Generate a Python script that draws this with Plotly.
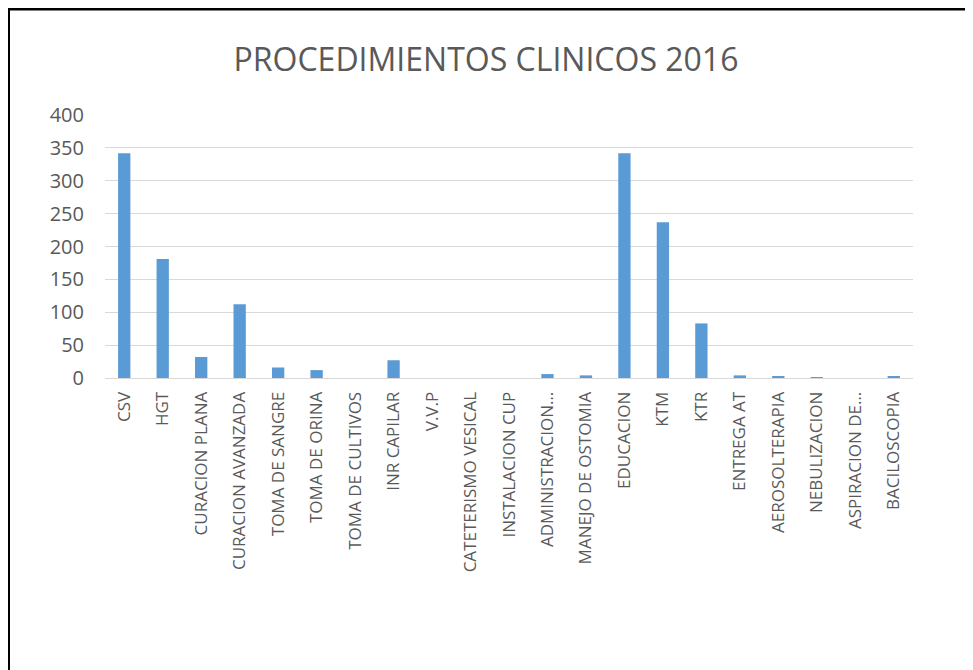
import plotly.graph_objects as go

categories = ["CSV", "HGT", "CURACION PLANA", "CURACION AVANZADA", "TOMA DE SANGRE",
              "TOMA DE ORINA", "TOMA DE CULTIVOS", "INR CAPILAR", "V.V.P",
              "CATETERISMO VESICAL", "INSTALACION CUP", "ADMINISTRACION…",
              "MANEJO DE OSTOMIA", "EDUCACION", "KTM", "KTR", "ENTREGA AT",
              "AEROSOLTERAPIA", "NEBULIZACION", "ASPIRACION DE…", "BACILOSCOPIA"]
values = [342, 181, 32, 112, 16, 12, 0, 27, 0, 0, 0, 6, 4, 342, 237, 83, 4, 3, 1, 0, 3]
y_ticks = [0, 50, 100, 150, 200, 250, 300, 350, 400]

W, H = 965, 662
L, R, T, B = 97, 60, 107, 292
pw, ph = W - L - R, H - T - B

def px(x):
    return (x - L) / pw

def py(y):
    return (H - B - y) / ph

fig = go.Figure(go.Bar(x=categories, y=values, marker=dict(color="#5b9bd5", line=dict(width=0)),
                       width=0.32))

fig.update_layout(
    width=W, height=H,
    margin=dict(l=L, r=R, t=T, b=B),
    paper_bgcolor="white", plot_bgcolor="white",
    font=dict(family="Open Sans", color="#595959", size=17),
    title=dict(text="PROCEDIMIENTOS CLINICOS 2016", x=(486 - 8) / W, xanchor="center", y=1 - 52 / H,
               yanchor="middle", font=dict(size=32, color="#595959")),
    showlegend=False,
    xaxis=dict(tickangle=-90, showgrid=False, showline=True, linecolor="#d9d9d9", linewidth=1,
               ticks="", tickfont=dict(size=17, color="#595959"), ticklabelstandoff=6),
    yaxis=dict(range=[0, 400], tickvals=y_ticks, showgrid=True, gridcolor="#d9d9d9", gridwidth=1,
               zeroline=False, ticks="", tickfont=dict(size=20, color="#595959"), ticklabelstandoff=20),
    shapes=[
        dict(type="line", xref="paper", yref="paper", x0=px(1), x1=px(964), y0=py(1), y1=py(1),
             line=dict(color="black", width=3)),
        dict(type="line", xref="paper", yref="paper", x0=px(1), x1=px(1), y0=py(0), y1=py(H),
             line=dict(color="black", width=2)),
        dict(type="line", xref="paper", yref="paper", x0=px(963), x1=px(963), y0=py(0), y1=py(H),
             line=dict(color="#888888", width=2)),
    ],
)

fig.write_html("out.html")
